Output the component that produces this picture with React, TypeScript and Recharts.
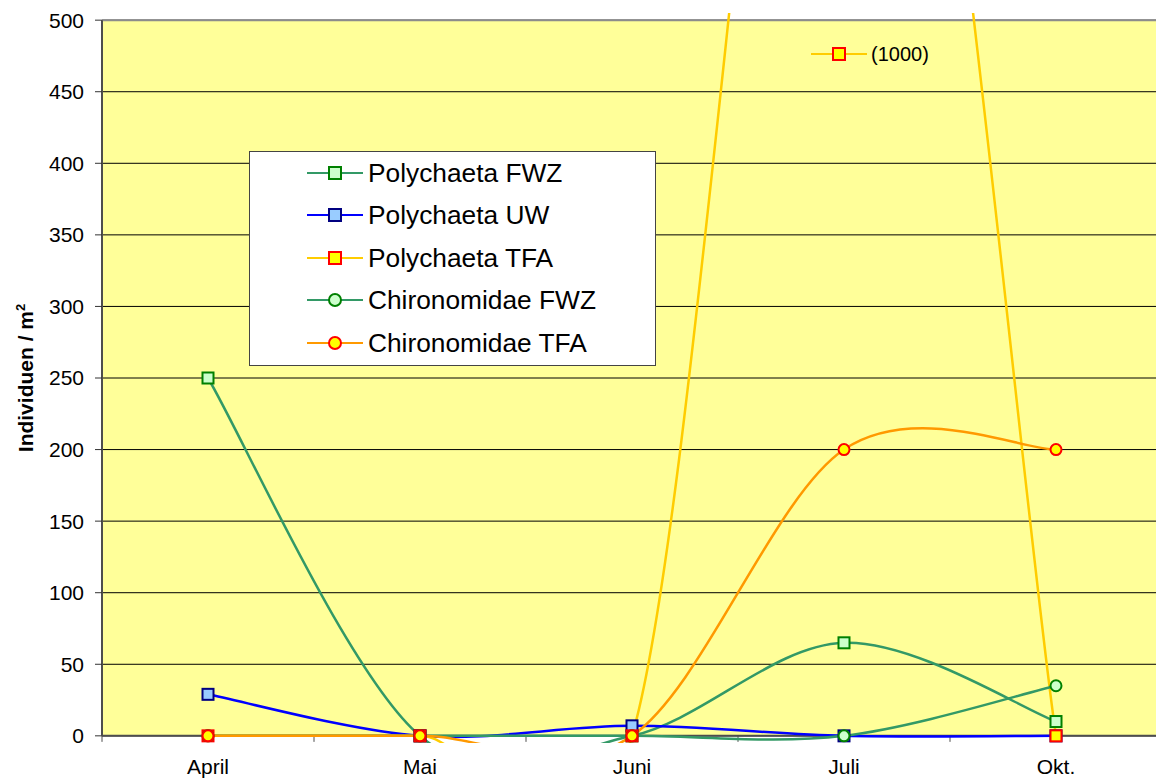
import { LineChart, Line, XAxis, YAxis, CartesianGrid, ReferenceArea, ReferenceLine, Legend } from "recharts";

const FONT = "'Liberation Sans', Arial, sans-serif";

const MONTHS = ["April", "Mai", "Juni", "Juli", "Okt."];
const POLYCHAETA_FWZ = [250, 0, 0, 65, 10];
const POLYCHAETA_UW = [29, 0, 7, 0, 0];
const POLYCHAETA_TFA = [0, 0, 0, 1000, 0];
const CHIRONOMIDAE_FWZ = [0, 0, 0, 0, 35];
const CHIRONOMIDAE_TFA = [0, 0, 0, 200, 200];
const Y_TICKS = [0, 50, 100, 150, 200, 250, 300, 350, 400, 450, 500];
const TFA_NOTE = "(1000)";

type Shape = "square" | "circle";

interface SeriesDef {
  key: string;
  name: string;
  values: number[];
  line: string;
  fill: string;
  stroke: string;
  shape: Shape;
}

const SERIES: SeriesDef[] = [
  { key: "pFWZ", name: "Polychaeta FWZ", values: POLYCHAETA_FWZ, line: "#339966", fill: "#CCFFCC", stroke: "#008000", shape: "square" },
  { key: "pUW", name: "Polychaeta UW", values: POLYCHAETA_UW, line: "#0000FF", fill: "#99CCFF", stroke: "#000080", shape: "square" },
  { key: "pTFA", name: "Polychaeta TFA", values: POLYCHAETA_TFA, line: "#FFCC00", fill: "#FFFF00", stroke: "#FF0000", shape: "square" },
  { key: "cFWZ", name: "Chironomidae FWZ", values: CHIRONOMIDAE_FWZ, line: "#339966", fill: "#CCFFCC", stroke: "#008000", shape: "circle" },
  { key: "cTFA", name: "Chironomidae TFA", values: CHIRONOMIDAE_TFA, line: "#FF9900", fill: "#FFFF00", stroke: "#FF0000", shape: "circle" },
];

const data = MONTHS.map((month, i) => {
  const row: Record<string, number | string> = { idx: i, month };
  SERIES.forEach((s) => (row[s.key] = s.values[i]));
  return row;
});

// category boundaries, where Excel puts its x tick marks
const BOUNDS = [-0.5, ...MONTHS.map((_, i) => i + 0.5)];

// Excel-style smoothed line (Catmull-Rom as cubic Bezier)
function excelSmooth(context: any) {
  let pts: [number, number][] = [];
  return {
    areaStart() {},
    areaEnd() {},
    lineStart() {
      pts = [];
    },
    point(x: number, y: number) {
      pts.push([+x, +y]);
    },
    lineEnd() {
      const n = pts.length;
      if (!n) return;
      context.moveTo(pts[0][0], pts[0][1]);
      for (let i = 0; i < n - 1; i++) {
        const p0 = pts[i - 1] ?? pts[i];
        const p1 = pts[i];
        const p2 = pts[i + 1];
        const p3 = pts[i + 2] ?? pts[i + 1];
        context.bezierCurveTo(
          p1[0] + (p2[0] - p0[0]) / 6,
          p1[1] + (p2[1] - p0[1]) / 6,
          p2[0] - (p3[0] - p1[0]) / 6,
          p2[1] - (p3[1] - p1[1]) / 6,
          p2[0],
          p2[1]
        );
      }
    },
  };
}

function renderDot(s: SeriesDef) {
  return (p: any) => {
    if (p.cx == null || p.cy == null) return <g key={`d-${s.key}-${p.index}`} />;
    if (s.shape === "square") {
      return (
        <rect
          key={`d-${s.key}-${p.index}`}
          x={p.cx - 5.5}
          y={p.cy - 5.5}
          width={11}
          height={11}
          fill={s.fill}
          stroke={s.stroke}
          strokeWidth={2}
        />
      );
    }
    return <circle key={`d-${s.key}-${p.index}`} cx={p.cx} cy={p.cy} r={5.5} fill={s.fill} stroke={s.stroke} strokeWidth={2} />;
  };
}

function MarkerIcon({ s, size = 12 }: { s: SeriesDef; size?: number }) {
  const h = size / 2;
  return (
    <svg width={56} height={18} style={{ display: "block" }}>
      <line x1={0} y1={9} x2={56} y2={9} stroke={s.line} strokeWidth={2} />
      {s.shape === "square" ? (
        <rect x={28 - h} y={9 - h} width={size} height={size} fill={s.fill} stroke={s.stroke} strokeWidth={2} />
      ) : (
        <circle cx={28} cy={9} r={h} fill={s.fill} stroke={s.stroke} strokeWidth={2} />
      )}
    </svg>
  );
}

function LegendBox() {
  return (
    <div
      style={{
        width: 407,
        height: 215,
        boxSizing: "border-box",
        background: "#fff",
        border: "1px solid #444",
        position: "relative",
        fontFamily: FONT,
      }}
    >
      {SERIES.map((s, i) => (
        <div
          key={s.key}
          style={{
            position: "absolute",
            left: 57,
            top: 20.5 + i * 42.6 - 16,
            height: 32,
            display: "flex",
            alignItems: "center",
            whiteSpace: "nowrap",
          }}
        >
          <MarkerIcon s={s} />
          <span style={{ marginLeft: 5, fontSize: 26.3, lineHeight: "32px", color: "#000" }}>{s.name}</span>
        </div>
      ))}
    </div>
  );
}

function YTitle(props: any) {
  const vb = props.viewBox ?? { x: 0, y: 13, width: 102, height: 730 };
  const x = vb.x + 33;
  const y = vb.y + vb.height / 2;
  return (
    <text
      x={x}
      y={y}
      transform={`rotate(-90 ${x} ${y})`}
      textAnchor="middle"
      fontSize={21}
      fontWeight="bold"
      fill="#000"
      fontFamily={FONT}
    >
      Individuen / m
      <tspan dy={-8} fontSize={13}>
        2
      </tspan>
    </text>
  );
}

export default function App() {
  const tfa = SERIES[2];
  return (
    <div
      style={{
        position: "absolute",
        left: 0,
        top: 0,
        width: 1156,
        height: 778,
        overflow: "hidden",
        background: "#fff",
      }}
    >
      <LineChart
        width={1170}
        height={778}
        data={data}
        margin={{ top: 13, right: 8, bottom: 0, left: 0 }}
        style={{ fontFamily: FONT }}
      >
        <ReferenceArea x1={-0.5} x2={4.5} y1={0} y2={500} fill="#FFFF99" fillOpacity={1} stroke="none" zIndex={-200} />
        <CartesianGrid vertical={false} stroke="#000" strokeWidth={1} syncWithTicks />
        <XAxis
          dataKey="idx"
          type="number"
          domain={[-0.5, 4.5]}
          ticks={MONTHS.map((_, i) => i)}
          tickFormatter={(v: number) => MONTHS[v] ?? ""}
          interval={0}
          axisLine={false}
          tickLine={false}
          tickSize={0}
          tickMargin={16.5}
          height={35}
          tick={{ fontSize: 21, fill: "#000" }}
        />
        <YAxis
          type="number"
          domain={[-5, 505]}
          ticks={Y_TICKS}
          allowDataOverflow
          width={102}
          axisLine={false}
          tickLine={{ stroke: "#333", strokeWidth: 1 }}
          tickSize={7}
          tickMargin={11}
          tick={{ fontSize: 21, fill: "#000" }}
          label={(p: any) => <YTitle {...p} />}
        />
        <ReferenceLine y={500} stroke="#8c8c8c" strokeWidth={2} zIndex={-50} />
        <ReferenceLine y={0} stroke="#4d4d4d" strokeWidth={2} zIndex={-50} />
        <ReferenceLine
          segment={[
            { x: -0.5, y: 0 },
            { x: -0.5, y: 500 },
          ]}
          stroke="#4d4d4d"
          strokeWidth={2}
          ifOverflow="visible"
          zIndex={-50}
        />
        {BOUNDS.map((b) => (
          <ReferenceLine
            key={`b-${b}`}
            segment={[
              { x: b, y: 0 },
              { x: b, y: -4.2 },
            ]}
            stroke="#4d4d4d"
            strokeWidth={1}
            ifOverflow="visible"
            zIndex={-50}
          />
        ))}
        {SERIES.map((s) => (
          <Line
            key={s.key}
            dataKey={s.key}
            name={s.name}
            type={excelSmooth as any}
            stroke={s.line}
            strokeWidth={2.5}
            dot={renderDot(s)}
            activeDot={false}
            isAnimationActive={false}
          />
        ))}
        <Legend
          layout="vertical"
          align="center"
          verticalAlign="middle"
          content={() => <LegendBox />}
          wrapperStyle={{ left: 249, top: 151, width: 407, height: 215 }}
        />
      </LineChart>
      <div
        style={{
          position: "absolute",
          left: 811,
          top: 42,
          height: 24,
          display: "flex",
          alignItems: "center",
          fontFamily: FONT,
          fontSize: 20,
          whiteSpace: "nowrap",
        }}
      >
        <MarkerIcon s={tfa} size={12} />
        <span style={{ marginLeft: 4, color: "#000" }}>{TFA_NOTE}</span>
      </div>
    </div>
  );
}
